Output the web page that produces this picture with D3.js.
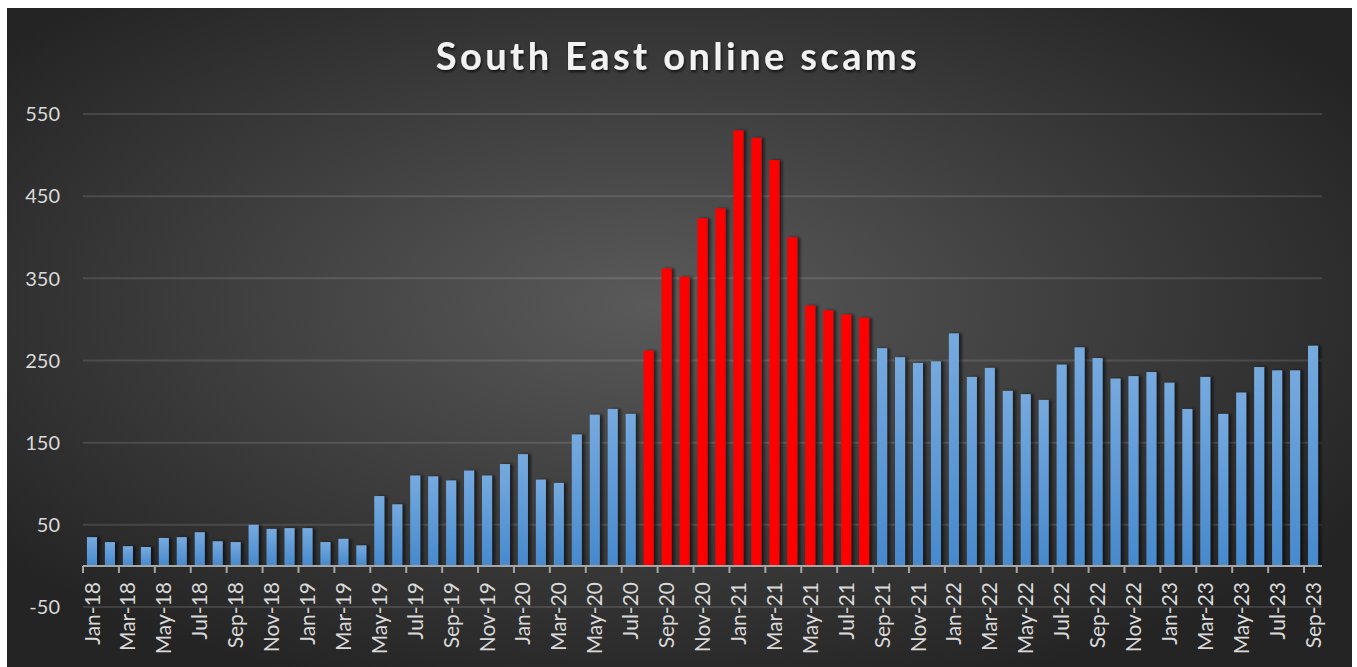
<!DOCTYPE html>
<html>
<head>
<meta charset="utf-8">
<script src="https://cdn.jsdelivr.net/npm/d3@7"></script>
<style>
  body { margin: 0; background: #fff; }
  svg text { font-family: Lato, "Open Sans", sans-serif; }
</style>
</head>
<body>
<div id="chart"></div>
<script>
// months on the x axis
const months = [
  "Jan-18","Feb-18","Mar-18","Apr-18","May-18","Jun-18","Jul-18","Aug-18","Sep-18","Oct-18","Nov-18","Dec-18",
  "Jan-19","Feb-19","Mar-19","Apr-19","May-19","Jun-19","Jul-19","Aug-19","Sep-19","Oct-19","Nov-19","Dec-19",
  "Jan-20","Feb-20","Mar-20","Apr-20","May-20","Jun-20","Jul-20","Aug-20","Sep-20","Oct-20","Nov-20","Dec-20",
  "Jan-21","Feb-21","Mar-21","Apr-21","May-21","Jun-21","Jul-21","Aug-21","Sep-21","Oct-21","Nov-21","Dec-21",
  "Jan-22","Feb-22","Mar-22","Apr-22","May-22","Jun-22","Jul-22","Aug-22","Sep-22","Oct-22","Nov-22","Dec-22",
  "Jan-23","Feb-23","Mar-23","Apr-23","May-23","Jun-23","Jul-23","Aug-23","Sep-23"
];

// scams reported per month
const scams = [
  35, 29, 24, 23, 34, 35, 41, 30, 29, 50, 45, 46,
  46, 29, 33, 25, 85, 75, 110, 109, 104, 116, 110, 124,
  136, 105, 101, 160, 184, 191, 185, 262, 362, 352, 423, 435,
  530, 521, 494, 400, 317, 311, 306, 302, 265, 254, 247, 249,
  283, 230, 241, 213, 209, 202, 245, 266, 253, 228, 231, 236,
  223, 191, 230, 185, 211, 242, 238, 238, 268
];

// months drawn in red
const highlighted = [
  "Aug-20","Sep-20","Oct-20","Nov-20","Dec-20","Jan-21","Feb-21",
  "Mar-21","Apr-21","May-21","Jun-21","Jul-21","Aug-21"
];

const yTicks = [-50, 50, 150, 250, 350, 450, 550];
const title = "South East online scams";

const width = 1357, height = 667;
const margin = { top: 114, right: 35, bottom: 60, left: 83 };

const svg = d3.select("#chart").append("svg")
  .attr("width", width).attr("height", height);

const defs = svg.append("defs");

const bg = defs.append("radialGradient").attr("id", "bg")
  .attr("cx", "48%").attr("cy", "45%").attr("r", "62%");
bg.append("stop").attr("offset", "0%").attr("stop-color", "#5a5a5a");
bg.append("stop").attr("offset", "100%").attr("stop-color", "#242424");

const barGrad = defs.append("linearGradient").attr("id", "barBlue")
  .attr("x1", 0).attr("y1", 0).attr("x2", 0).attr("y2", 1);
barGrad.append("stop").attr("offset", "0%").attr("stop-color", "#76aadf");
barGrad.append("stop").attr("offset", "100%").attr("stop-color", "#4689cd");

const shadow = defs.append("filter").attr("id", "shadow")
  .attr("x", "-50%").attr("y", "-10%").attr("width", "200%").attr("height", "120%");
shadow.append("feDropShadow").attr("dx", 3).attr("dy", 0)
  .attr("stdDeviation", 1.8).attr("flood-color", "#000").attr("flood-opacity", 0.55);

const titleShadow = defs.append("filter").attr("id", "tshadow");
titleShadow.append("feDropShadow").attr("dx", 1).attr("dy", 2)
  .attr("stdDeviation", 1.5).attr("flood-color", "#000").attr("flood-opacity", 0.7);

// chart area background
svg.append("rect").attr("x", 7).attr("y", 8)
  .attr("width", 1345).attr("height", height - 8)
  .attr("fill", "url(#bg)");

const x = d3.scaleBand().domain(months)
  .range([margin.left, 1322]).paddingInner(0.44).paddingOuter(0.22);
const y = d3.scaleLinear().domain([-50, 550]).range([607, 114]);

// gridlines
svg.append("g").selectAll("line").data(yTicks).join("line")
  .attr("x1", margin.left).attr("x2", 1322)
  .attr("y1", d => y(d)).attr("y2", d => y(d))
  .attr("stroke", "rgba(255,255,255,0.12)").attr("stroke-width", 2);

// y labels
svg.append("g").selectAll("text").data(yTicks).join("text")
  .attr("x", 60).attr("y", d => y(d)).attr("dy", "0.36em")
  .attr("text-anchor", "end").attr("fill", "#d9d9d9")
  .attr("font-size", 20).text(d => d);

// bars
svg.append("g").selectAll("rect").data(months).join("rect")
  .attr("x", d => x(d)).attr("width", x.bandwidth())
  .attr("y", (d, i) => y(scams[i]))
  .attr("height", (d, i) => y(0) - y(scams[i]))
  .attr("fill", d => highlighted.includes(d) ? "#ff0000" : "url(#barBlue)")
  .attr("filter", "url(#shadow)");

// x axis line and ticks
const axisY = y(0);
svg.append("line").attr("x1", margin.left).attr("x2", 1322)
  .attr("y1", axisY).attr("y2", axisY)
  .attr("stroke", "#a6a6a6").attr("stroke-width", 2);

const labelled = months.filter((d, i) => i % 2 === 0);
svg.append("g").selectAll("line").data(labelled).join("line")
  .attr("x1", d => x(d) - x.step() * x.paddingInner() / 2)
  .attr("x2", d => x(d) - x.step() * x.paddingInner() / 2)
  .attr("y1", axisY).attr("y2", axisY + 7)
  .attr("stroke", "#a6a6a6").attr("stroke-width", 2);

svg.append("g").selectAll("text").data(labelled).join("text")
  .attr("transform", d => `translate(${x(d) + x.bandwidth() / 2},582) rotate(-90)`)
  .attr("dy", "0.36em").attr("text-anchor", "end")
  .attr("fill", "#d9d9d9").attr("font-size", 21)
  .text(d => d);

// title
svg.append("text").attr("x", 678).attr("y", 70)
  .attr("text-anchor", "middle").attr("fill", "#f2f2f2")
  .attr("font-size", 38).attr("font-weight", "bold")
  .attr("letter-spacing", 3.4)
  .attr("filter", "url(#tshadow)")
  .text(title);
</script>
</body>
</html>
